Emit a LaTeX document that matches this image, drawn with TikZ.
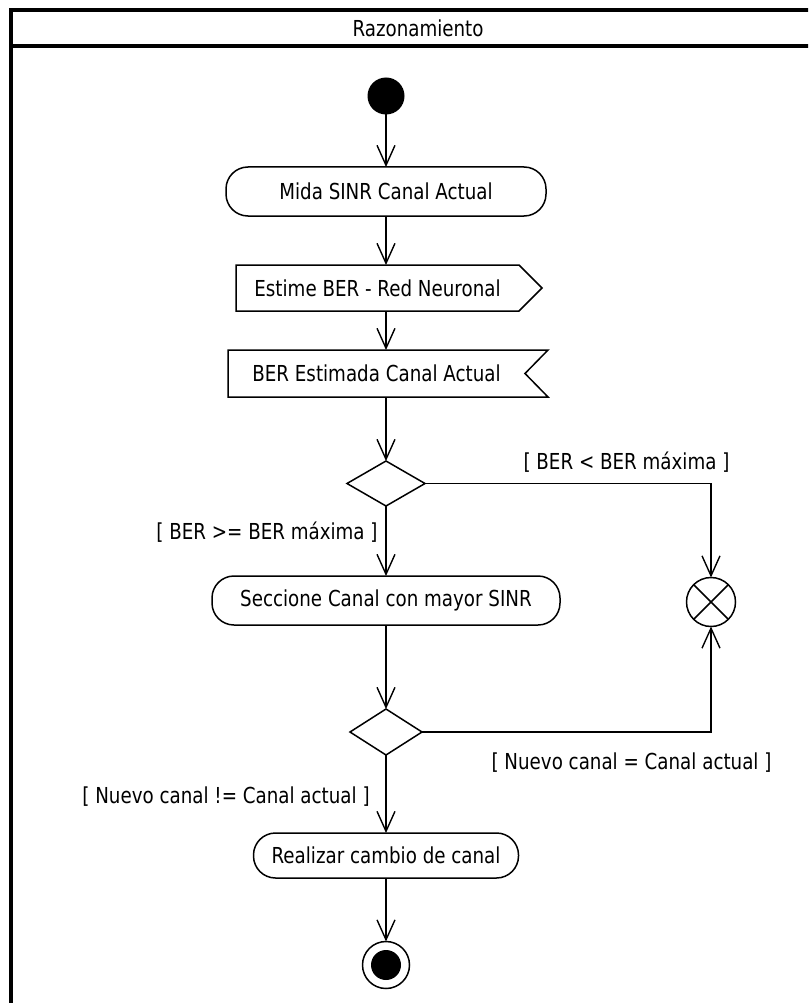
\documentclass[tikz,border=0pt]{standalone}
\usepackage{fontspec}
\setmainfont{DejaVu Sans}[FakeStretch=0.83]
\usetikzlibrary{arrows.meta,shapes.geometric}
\begin{document}
\begin{tikzpicture}[x=1pt,y=-1pt,
  every node/.style={font=\fontsize{22}{26}\selectfont, inner sep=0pt, outer sep=0pt},
  flow/.style={line width=1.4pt, -{Straight Barb[length=20pt,width=18pt]}},
  action/.style={draw, line width=1.5pt, rounded corners=22pt, minimum height=49pt},
  signalbox/.style={minimum height=46pt},
  decision/.style={draw, line width=1.5pt, diamond, minimum width=78pt, minimum height=45pt},
  initial/.style={circle, fill=black, minimum size=37pt},
  finalring/.style={circle, draw, line width=1.5pt, minimum size=47pt},
  flowfinal/.style={circle, draw, line width=1.5pt, minimum size=49pt},
  guard/.style={anchor=center},
  frameline/.style={line width=4pt}]
\useasboundingbox (0,0) rectangle (808,1003);
\clip (0,0) rectangle (808,1003);

% activity frame with its title row
\draw[frameline] (10.5,1010) -- (10.5,10) -- (830,10);
\draw[frameline] (10.5,46) -- (830,46);
\node (title) at (418,28) {Razonamiento};

% nodes of the activity
\node[initial] (start) at (386,96) {};
\node[action, minimum width=320pt] (a1) at (386,191.5) {Mida SINR Canal Actual};
\node[signalbox, minimum width=283pt] (send) at (377.5,288) {Estime BER - Red Neuronal};
\draw[line width=1.5pt] (send.north west) -- (send.north east) -- ([xshift=23pt]send.east)
  -- (send.south east) -- (send.south west) -- cycle;
\node[signalbox, minimum width=297pt, minimum height=47pt] (recv) at (376.5,373.5) {BER Estimada Canal Actual};
\draw[line width=1.5pt] (recv.north west) -- ([xshift=23pt]recv.north east) -- (recv.east)
  -- ([xshift=23pt]recv.south east) -- (recv.south west) -- cycle;
\node[decision] (d1) at (386,483.5) {};
\node[action, minimum width=348pt] (a3) at (386,600.5) {Seccione Canal con mayor SINR};
\node[flowfinal] (ff) at (711,602) {};
\draw[line width=1.5pt] (ff.north west) -- (ff.south east) (ff.north east) -- (ff.south west);
\node[decision, minimum width=72pt, minimum height=46pt] (d2) at (386,732) {};
\node[action, minimum width=265pt, minimum height=45pt] (a4) at (386,855.5) {Realizar cambio de canal};
\node[finalring] (end) at (386,965) {};
\node[circle, fill=black, minimum size=30pt] (endcore) at (end) {};

% control flows
\draw[flow] (start) -- (a1);
\draw[flow] (a1) -- (a1 |- send.north);
\draw[flow] (send.south -| start) -- (recv.north -| start);
\draw[flow] (recv.south -| start) -- (d1);
\draw[flow] (d1) -- (a3);
\draw[flow] (d1.east) -| (ff);
\draw[flow] (a3) -- (d2);
\draw[flow] (d2.east) -| (ff);
\draw[flow] (d2) -- (a4);
\draw[flow] (a4) -- (end);

% guards
\node[guard] (g1) at (626.5,462) {[ BER < BER máxima ]};
\node[guard] (g2) at (267,532) {[ BER >= BER máxima ]};
\node[guard] (g3) at (631.5,763) {[ Nuevo canal = Canal actual ]};
\node[guard] (g4) at (226,797) {[ Nuevo canal != Canal actual ]};
\end{tikzpicture}
\end{document}
